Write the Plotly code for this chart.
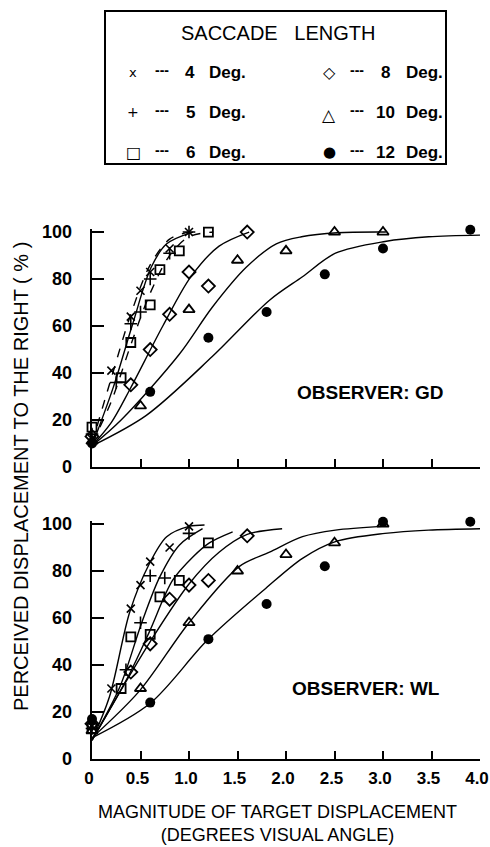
import plotly.graph_objects as go

# ---------------- data ----------------
saccade_deg = ["4", "5", "6", "8", "10", "12"]
legend_symbols = ["x", "+", "□", "◇", "△", "●"]

x_tick_vals = [0, 0.5, 1.0, 1.5, 2.0, 2.5, 3.0, 3.5, 4.0]
x_tick_text = ["0", "0.5", "1.0", "1.5", "2.0", "2.5", "3.0", "3.5", "4.0"]
y_tick_vals = [0, 20, 40, 60, 80, 100]

# Observer GD : data points
gd_4_x = [0, 0.2, 0.4, 0.5, 0.6, 0.8, 1.0]
gd_4_y = [12, 41, 64, 75, 83, 93, 100]
gd_5_x = [0, 0.25, 0.4, 0.5, 0.6, 0.8, 1.0]
gd_5_y = [14, 36, 61, 66, 80, 91, 100]
gd_6_x = [0, 0.3, 0.4, 0.6, 0.7, 0.9, 1.2]
gd_6_y = [17, 38, 53, 69, 84, 92, 100]
gd_8_x = [0, 0.4, 0.6, 0.8, 1.0, 1.2, 1.6]
gd_8_y = [13, 35, 50, 65, 83, 77, 100]
gd_10_x = [0, 0.5, 1.0, 1.5, 2.0, 2.5, 3.0]
gd_10_y = [11, 26, 67, 88, 92, 100, 100]
gd_12_x = [0, 0.6, 1.2, 1.8, 2.4, 3.0, 3.9]
gd_12_y = [10, 32, 55, 66, 82, 93, 101]

# Observer GD : fitted curves
gd_4_cx = [0, 0.2, 0.4, 0.6, 0.8, 1.0]
gd_4_cy = [10, 38, 65, 86, 97, 100]
gd_5_cx = [0, 0.22, 0.42, 0.61, 0.77, 1.04]
gd_5_cy = [9, 34, 61, 85, 95, 100]
gd_6_cx = [0, 0.2, 0.4, 0.6, 0.8, 1.0, 1.25]
gd_6_cy = [10, 28, 52, 74, 90, 98, 100]
gd_8_cx = [0, 0.2, 0.39, 0.73, 1.02, 1.31, 1.62]
gd_8_cy = [9, 19, 33, 60, 81, 94, 100]
gd_10_cx = [0, 0.3, 0.9, 1.24, 1.59, 1.9, 2.16, 2.53, 3.03]
gd_10_cy = [9, 20, 48, 68, 85, 95, 98, 99.7, 100]
gd_12_cx = [0, 0.56, 1.24, 1.83, 2.17, 2.51, 3.02, 3.47, 4.0]
gd_12_cy = [9, 22, 47, 71, 81, 91, 96, 98, 98.7]

# Observer WL : data points
wl_4_x = [0, 0.2, 0.4, 0.5, 0.6, 0.8, 1.0]
wl_4_y = [14, 30, 64, 74, 84, 90, 99]
wl_5_x = [0, 0.35, 0.5, 0.6, 0.75, 1.0]
wl_5_y = [13, 38, 58, 78, 77, 96]
wl_6_x = [0, 0.3, 0.4, 0.6, 0.7, 0.9, 1.2]
wl_6_y = [13, 30, 52, 53, 69, 76, 92]
wl_8_x = [0, 0.4, 0.6, 0.8, 1.0, 1.2, 1.6]
wl_8_y = [15, 37, 49, 68, 74, 76, 95]
wl_10_x = [0, 0.5, 1.0, 1.5, 2.0, 2.5, 3.0]
wl_10_y = [12, 30, 58, 80, 87, 92, 100]
wl_12_x = [0, 0.6, 1.2, 1.8, 2.4, 3.0, 3.9]
wl_12_y = [17, 24, 51, 66, 82, 101, 101]

# Observer WL : fitted curves
wl_4_cx = [0, 0.18, 0.39, 0.59, 0.77, 1.0, 1.16]
wl_4_cy = [8, 26.5, 62.7, 83, 94.6, 99, 99.6]
wl_5_cx = [0, 0.29, 0.51, 0.7, 0.9, 1.14]
wl_5_cy = [8, 31, 57.7, 77.6, 91, 98]
wl_6_cx = [0, 0.39, 0.59, 0.83, 1.04, 1.21, 1.45]
wl_6_cy = [8, 36.5, 54, 76, 86, 92, 96.7]
wl_8_cx = [0, 0.39, 0.6, 1.0, 1.31, 1.6, 1.96]
wl_8_cy = [8, 35.7, 50, 74.5, 88, 95.6, 98]
wl_10_cx = [0, 0.49, 1.0, 1.52, 1.83, 2.17, 2.51, 2.99]
wl_10_cy = [9, 29, 58, 82, 88, 94.6, 97.4, 99]
wl_12_cx = [0, 0.6, 1.19, 1.79, 2.17, 2.51, 3.02, 3.47, 4.0]
wl_12_cy = [9, 23.7, 50.6, 72.6, 85.4, 92.5, 96, 97.4, 98]

# ---------------- styling ----------------
W, H = 490, 847
YMAX = 101.3
PX_PER_Y = 2.35                     # pixels per percent
TOP_Y0, BOT_Y0 = 467, 759           # pixel rows of y = 0 in each panel
ML, MR = 92, 10
MT = TOP_Y0 - YMAX * PX_PER_Y
MB = H - BOT_Y0
PW = W - ML - MR
PH = H - MT - MB
FONT = "Liberation Sans, Arial, Helvetica, sans-serif"

def fx(xp):
    return (xp - ML) / PW

def fy(yp):
    return (H - MB - yp) / PH

marker_style = {
    "4": dict(symbol="x-thin-open", size=8, color="black", line=dict(width=1.6, color="black")),
    "5": dict(symbol="cross-thin-open", size=9, color="black", line=dict(width=1.6, color="black")),
    "6": dict(symbol="square-open", size=9, color="black", line=dict(width=1.8, color="black")),
    "8": dict(symbol="diamond-open", size=10, color="black", line=dict(width=1.8, color="black")),
    "10": dict(symbol="triangle-up-open", size=10, color="black", line=dict(width=1.8, color="black")),
    "12": dict(symbol="circle", size=10, color="black", line=dict(width=0, color="black")),
}
gd_dash = {"4": "dash", "5": "solid", "6": "dash", "8": "solid", "10": "solid", "12": "solid"}

gd_points = {"4": (gd_4_x, gd_4_y), "5": (gd_5_x, gd_5_y), "6": (gd_6_x, gd_6_y),
             "8": (gd_8_x, gd_8_y), "10": (gd_10_x, gd_10_y), "12": (gd_12_x, gd_12_y)}
gd_curves = {"4": (gd_4_cx, gd_4_cy), "5": (gd_5_cx, gd_5_cy), "6": (gd_6_cx, gd_6_cy),
             "8": (gd_8_cx, gd_8_cy), "10": (gd_10_cx, gd_10_cy), "12": (gd_12_cx, gd_12_cy)}
wl_points = {"4": (wl_4_x, wl_4_y), "5": (wl_5_x, wl_5_y), "6": (wl_6_x, wl_6_y),
             "8": (wl_8_x, wl_8_y), "10": (wl_10_x, wl_10_y), "12": (wl_12_x, wl_12_y)}
wl_curves = {"4": (wl_4_cx, wl_4_cy), "5": (wl_5_cx, wl_5_cy), "6": (wl_6_cx, wl_6_cy),
             "8": (wl_8_cx, wl_8_cy), "10": (wl_10_cx, wl_10_cy), "12": (wl_12_cx, wl_12_cy)}

fig = go.Figure()

for (points, curves, xa, ya, dashes) in [
    (gd_points, gd_curves, "x", "y", gd_dash),
    (wl_points, wl_curves, "x2", "y2", {k: "solid" for k in saccade_deg}),
]:
    for d in saccade_deg:
        cx, cy = curves[d]
        fig.add_trace(go.Scatter(
            x=cx, y=cy, mode="lines", xaxis=xa, yaxis=ya,
            line=dict(color="black", width=1.4, shape="spline", smoothing=0.9, dash=dashes[d]),
            showlegend=False, hoverinfo="skip", cliponaxis=False))
    for d in saccade_deg:
        px_, py_ = points[d]
        fig.add_trace(go.Scatter(
            x=px_, y=py_, mode="markers", xaxis=xa, yaxis=ya,
            marker=marker_style[d], name=d + " Deg.",
            showlegend=False, cliponaxis=False))

axis_common = dict(
    range=[0, 4.0], tickvals=x_tick_vals, ticks="inside", ticklen=8, tickwidth=2,
    tickcolor="black", showline=True, linecolor="black", linewidth=2.4,
    showgrid=False, zeroline=False, fixedrange=True, automargin=False,
)
y_common = dict(
    range=[0, YMAX], tickvals=y_tick_vals, ticks="inside", ticklen=12, tickwidth=2,
    tickcolor="black", showline=True, linecolor="black", linewidth=2.4,
    showgrid=False, zeroline=False, ticklabelstandoff=14, automargin=False,
    tickfont=dict(family=FONT, size=18, color="black", weight="bold"),
)

top_lo = fy(TOP_Y0)
bot_hi = fy(BOT_Y0 - YMAX * PX_PER_Y)

fig.update_layout(
    width=W, height=H, autosize=False,
    margin=dict(l=ML, r=MR, t=MT, b=MB, autoexpand=False),
    paper_bgcolor="white", plot_bgcolor="white",
    showlegend=False,
    xaxis=dict(**axis_common, anchor="y", showticklabels=False),
    yaxis=dict(**y_common, anchor="x", domain=[top_lo, 1.0]),
    xaxis2=dict(**axis_common, anchor="y2", ticktext=x_tick_text, ticklabelstandoff=2,
                ticklabeloverflow="allow", ticklabelshift=-3,
                tickfont=dict(family=FONT, size=17, color="black", weight="bold")),
    yaxis2=dict(**y_common, anchor="x2", domain=[0.0, bot_hi]),
)

annotations = []
# axis titles
annotations.append(dict(
    text="PERCEIVED DISPLACEMENT TO THE RIGHT ( % )", textangle=-90,
    x=fx(21), y=fy(477), xref="paper", yref="paper", showarrow=False,
    xanchor="center", yanchor="middle",
    font=dict(family=FONT, size=20, color="black")))
annotations.append(dict(
    text="MAGNITUDE OF TARGET DISPLACEMENT<br>(DEGREES VISUAL ANGLE)",
    x=fx(277), y=fy(824), xref="paper", yref="paper", showarrow=False,
    xanchor="center", yanchor="middle", align="center",
    font=dict(family=FONT, size=18, color="black")))
# observer labels
annotations.append(dict(
    text="OBSERVER: GD", x=fx(370), y=fy(392), xref="paper", yref="paper",
    showarrow=False, xanchor="center", yanchor="middle",
    font=dict(family=FONT, size=19, color="black", weight="bold")))
annotations.append(dict(
    text="OBSERVER: WL", x=fx(366), y=fy(688), xref="paper", yref="paper",
    showarrow=False, xanchor="center", yanchor="middle",
    font=dict(family=FONT, size=19, color="black", weight="bold")))

# legend box contents
annotations.append(dict(
    text="SACCADE   LENGTH", x=fx(278), y=fy(33), xref="paper", yref="paper",
    showarrow=False, xanchor="center", yanchor="middle",
    font=dict(family=FONT, size=20, color="black")))
row_y = [72, 112, 152]
left_cols = dict(sym=133, dash=162, num=190, deg=227)
right_cols = dict(sym=329, dash=357, num=385, deg=424)
sym_sizes = {"x": 13, "+": 14, "□": 16, "◇": 16, "△": 17, "●": 15}
for i, d in enumerate(saccade_deg):
    cols = left_cols if i < 3 else right_cols
    yy = row_y[i % 3]
    sym = legend_symbols[i]
    annotations.append(dict(text=sym, x=fx(cols["sym"]), y=fy(yy + (3 if sym == "△" else 0)),
                            xref="paper", yref="paper", showarrow=False,
                            xanchor="center", yanchor="middle",
                            font=dict(family="DejaVu Sans, " + FONT, size=sym_sizes[sym], color="black")))
    annotations.append(dict(text="---", x=fx(cols["dash"]), y=fy(yy - 2),
                            xref="paper", yref="paper", showarrow=False,
                            xanchor="center", yanchor="middle",
                            font=dict(family=FONT, size=14, color="black", weight="bold")))
    annotations.append(dict(text=d, x=fx(cols["num"]), y=fy(yy),
                            xref="paper", yref="paper", showarrow=False,
                            xanchor="center", yanchor="middle",
                            font=dict(family=FONT, size=17, color="black", weight="bold")))
    annotations.append(dict(text="Deg.", x=fx(cols["deg"]), y=fy(yy),
                            xref="paper", yref="paper", showarrow=False,
                            xanchor="center", yanchor="middle",
                            font=dict(family=FONT, size=17, color="black", weight="bold")))

fig.update_layout(annotations=annotations)
fig.add_shape(type="rect", xref="paper", yref="paper",
              x0=fx(105), x1=fx(446), y0=fy(11), y1=fy(164),
              line=dict(color="black", width=2), fillcolor="rgba(0,0,0,0)")

fig.write_html(
    "out.html",
    config={"displayModeBar": False, "staticPlot": True},
    post_script="document.body.style.margin='0px';document.body.style.overflow='hidden';",
)
